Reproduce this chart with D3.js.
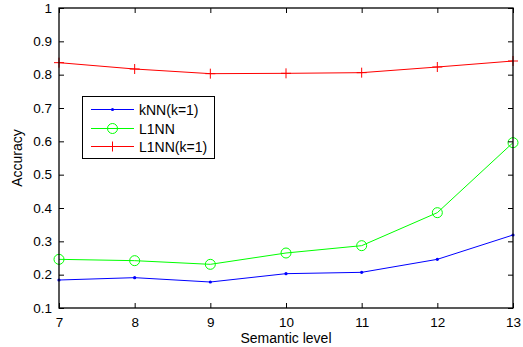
<!DOCTYPE html>
<html><head><meta charset="utf-8">
<script src="https://cdn.jsdelivr.net/npm/d3@7"></script>
<style>body{margin:0;background:#fff}svg{display:block}text{font-family:"Liberation Sans",Arial,sans-serif}</style>
</head><body>
<script>
const levels = [7, 8, 9, 10, 11, 12, 13];
const knn = [0.184, 0.191, 0.178, 0.203, 0.207, 0.246, 0.319];
const l1nn = [0.246, 0.242, 0.231, 0.265, 0.287, 0.386, 0.596];
const l1nnK1 = [0.836, 0.817, 0.803, 0.804, 0.806, 0.823, 0.841];
const yTicks = [0.1,0.2,0.3,0.4,0.5,0.6,0.7,0.8,0.9,1];
const seriesNames = ["kNN(k=1)", "L1NN", "L1NN(k=1)"];

const W = 523, H = 347;
const L = 59, R = 513, T = 8, B = 308;
const svg = d3.select("body").append("svg").attr("width", W).attr("height", H);
const x = d3.scaleLinear().domain([7, 13]).range([L, R]);
const y = d3.scaleLinear().domain([0.1, 1]).range([B, T]);

const series = [
  {name: seriesNames[0], values: knn, color: "#0000ff", marker: "dot"},
  {name: seriesNames[1], values: l1nn, color: "#00ff00", marker: "circle"},
  {name: seriesNames[2], values: l1nnK1, color: "#ff0000", marker: "plus"}
];

function drawMarker(g, type, cx, cy, color) {
  if (type === "dot") {
    g.append("circle").attr("cx", cx).attr("cy", cy).attr("r", 1.6).attr("fill", color);
  } else if (type === "circle") {
    g.append("circle").attr("cx", cx).attr("cy", cy).attr("r", 5).attr("fill", "none").attr("stroke", color).attr("stroke-width", 1);
  } else {
    g.append("path").attr("d", `M${cx-5},${cy}H${cx+5}M${cx},${cy-5}V${cy+5}`).attr("stroke", color).attr("stroke-width", 1);
  }
}

const plot = svg.append("g");
const line = d3.line().x((d, i) => x(levels[i])).y(d => y(d));
series.forEach(s => {
  plot.append("path").datum(s.values).attr("d", line).attr("fill", "none").attr("stroke", s.color).attr("stroke-width", 1);
  s.values.forEach((v, i) => drawMarker(plot, s.marker, x(levels[i]), y(v), s.color));
});

// axes (MATLAB style box with inward ticks)
const axG = svg.append("g");
const xAxis = d3.axisBottom(x).tickValues(levels).tickSize(-5).tickPadding(9).tickFormat(d3.format("d"));
const yAxis = d3.axisLeft(y).tickValues(yTicks).tickSize(-5).tickPadding(7).tickFormat(d => d === 1 ? "1" : d3.format(".1f")(d));
const gx = axG.append("g").attr("transform", `translate(0,${B})`).call(xAxis);
const gy = axG.append("g").attr("transform", `translate(${L},0)`).call(yAxis);
const gxTop = axG.append("g").attr("transform", `translate(0,${T})`).call(d3.axisTop(x).tickValues(levels).tickSize(-5).tickFormat(""));
const gyR = axG.append("g").attr("transform", `translate(${R},0)`).call(d3.axisRight(y).tickValues(yTicks).tickSize(-5).tickFormat(""));
[gx, gy, gxTop, gyR].forEach(g => {
  g.select(".domain").remove();
  g.selectAll("line").attr("stroke", "#000");
  g.selectAll("text").attr("font-size", 13.5).attr("fill", "#000").attr("font-family", '"Liberation Sans",Arial,sans-serif');
});
axG.append("rect").attr("x", L).attr("y", T).attr("width", R - L).attr("height", B - T)
  .attr("fill", "none").attr("stroke", "#000").attr("stroke-width", 1.3);

svg.append("text").attr("x", (L + R) / 2).attr("y", 343).attr("text-anchor", "middle").attr("font-size", 14).text("Semantic level");
svg.append("text").attr("transform", `translate(22,${(T + B) / 2}) rotate(-90)`).attr("text-anchor", "middle").attr("font-size", 14).text("Accuracy");

// legend
const lg = svg.append("g");
lg.append("rect").attr("x", 82.5).attr("y", 96.5).attr("width", 132).attr("height", 62).attr("fill", "#fff").attr("stroke", "#000").attr("stroke-width", 1);
const ly = [109.5, 128.5, 146.5];
series.forEach((s, i) => {
  lg.append("line").attr("x1", 91).attr("x2", 134).attr("y1", ly[i]).attr("y2", ly[i]).attr("stroke", s.color).attr("stroke-width", 1);
  drawMarker(lg, s.marker, 112.5, ly[i], s.color);
  lg.append("text").attr("x", 139).attr("y", ly[i] + 5).attr("font-size", 14).text(s.name);
});
</script>
</body></html>
